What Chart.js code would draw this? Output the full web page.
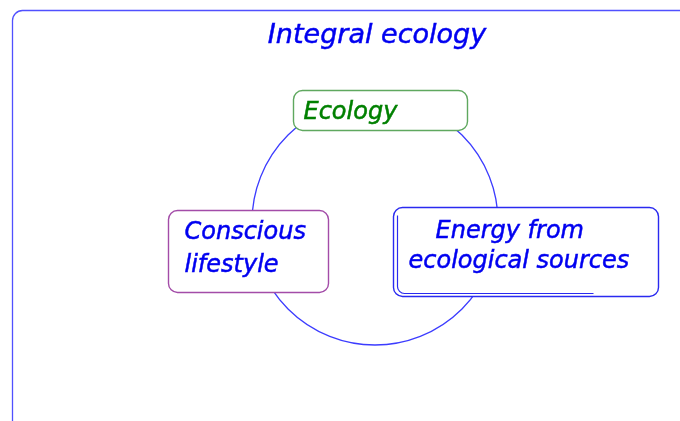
<!DOCTYPE html>
<html>
<head>
<meta charset="utf-8">
<style>
  html, body { margin: 0; padding: 0; background: #fff; }
  #wrap { width: 680px; height: 421px; }
</style>
<script src="https://cdn.jsdelivr.net/npm/chart.js@4"></script>
</head>
<body>
<div id="wrap"><canvas id="diagram"></canvas></div>
<script>
// ---------------------------------------------------------------------------
// Diagram data: three nodes sitting on one cycle
// ---------------------------------------------------------------------------

const titleText = 'Integral ecology';
const nodeNames = ['Ecology', 'Conscious lifestyle', 'Energy from ecological sources'];
const nodeLines = [['Ecology'], ['Conscious', 'lifestyle'], ['Energy from', 'ecological sources']];
const nodeX = [380, 248, 525.5];
const nodeY = [110, 251, 251.5];
const cycleX = 375;
const cycleY = 222;
const cycleR = 123;

// box look, in diagram units (1 unit = 1 px here)
const boxStyle = [
    { w: 174, h: 40, border: '#5fa85f', text: '#008000', textLeft: 10, baselines: [9], double: false },
    { w: 160, h: 82, border: '#a34ca8', text: '#0000f0', textLeft: 16, baselines: [-12, 21], double: false },
    { w: 265, h: 89, border: '#2a2af0', text: '#0000f0', textLeft: [42, 15], baselines: [-14, 16], double: true },
];

const FONT = '"DejaVu Sans", sans-serif';

function roundRect(ctx, x, y, w, h, r) {
    ctx.beginPath();
    ctx.moveTo(x + r, y);
    ctx.lineTo(x + w - r, y);
    ctx.arcTo(x + w, y, x + w, y + r, r);
    ctx.lineTo(x + w, y + h - r);
    ctx.arcTo(x + w, y + h, x + w - r, y + h, r);
    ctx.lineTo(x + r, y + h);
    ctx.arcTo(x, y + h, x, y + h - r, r);
    ctx.lineTo(x, y + r);
    ctx.arcTo(x, y, x + r, y, r);
    ctx.closePath();
}

// text with a hair of stroke so it looks as heavy as the original
function heavyText(ctx, txt, x, y, color) {
    ctx.fillStyle = color;
    ctx.strokeStyle = color;
    ctx.lineWidth = 0.5;
    ctx.fillText(txt, x, y);
    ctx.strokeText(txt, x, y);
}

const diagramPlugin = {
    id: 'diagram',
    beforeDatasetsDraw(chart) {
        const ctx = chart.ctx;
        const xs = chart.scales.x, ys = chart.scales.y;
        ctx.save();

        // outer frame (top + left edge with rounded corner)
        const fx = xs.getPixelForValue(12.5), fy = ys.getPixelForValue(10.5);
        ctx.strokeStyle = '#5050ff';
        ctx.lineWidth = 1.3;
        ctx.beginPath();
        ctx.moveTo(fx, ys.getPixelForValue(421));
        ctx.lineTo(fx, fy + 10);
        ctx.arcTo(fx, fy, fx + 10, fy, 10);
        ctx.lineTo(xs.getPixelForValue(680), fy);
        ctx.stroke();

        // title
        ctx.font = 'italic 27px ' + FONT;
        ctx.textAlign = 'center';
        ctx.textBaseline = 'alphabetic';
        heavyText(ctx, titleText, xs.getPixelForValue(377), ys.getPixelForValue(43), '#0000f0');

        // cycle
        const cx = xs.getPixelForValue(cycleX), cy = ys.getPixelForValue(cycleY);
        const r = xs.getPixelForValue(cycleX + cycleR) - cx;
        ctx.strokeStyle = '#3c3cff';
        ctx.lineWidth = 1.3;
        ctx.beginPath();
        ctx.arc(cx, cy, r, 0, Math.PI * 2);
        ctx.stroke();
        ctx.restore();
    },
    afterDatasetsDraw(chart) {
        const ctx = chart.ctx;
        const meta = chart.getDatasetMeta(0);
        ctx.save();
        meta.data.forEach((pt, i) => {
            const st = boxStyle[i];
            const x = Math.round(pt.x - st.w / 2) + 0.5;
            const y = Math.round(pt.y - st.h / 2) + 0.5;
            roundRect(ctx, x, y, st.w, st.h, 9);
            ctx.fillStyle = '#fff';
            ctx.fill();
            ctx.strokeStyle = st.border;
            ctx.lineWidth = 1.4;
            ctx.stroke();
            if (st.double) {
                // inner line on left + bottom
                ctx.lineWidth = 1.2;
                ctx.beginPath();
                ctx.moveTo(x + 4, y + 8);
                ctx.lineTo(x + 4, y + st.h - 11);
                ctx.arcTo(x + 4, y + st.h - 3, x + 11, y + st.h - 3, 7);
                ctx.lineTo(x + 200, y + st.h - 3);
                ctx.stroke();
            }
            ctx.font = 'italic 24px ' + FONT;
            ctx.textAlign = 'left';
            ctx.textBaseline = 'alphabetic';
            nodeLines[i].forEach((line, j) => {
                const left = Array.isArray(st.textLeft) ? st.textLeft[j] : st.textLeft;
                heavyText(ctx, line, x + left, pt.y + st.baselines[j], st.text);
            });
        });
        ctx.restore();
    }
};

new Chart(document.getElementById('diagram'), {
    type: 'scatter',
    data: {
        labels: nodeNames,
        datasets: [{
            label: 'nodes',
            data: nodeX.map((x, i) => ({ x, y: nodeY[i] })),
            pointRadius: 0,
            pointHoverRadius: 0,
        }]
    },
    options: {
        responsive: true,
        maintainAspectRatio: false,
        animation: false,
        events: [],
        layout: { padding: 0 },
        plugins: { legend: { display: false }, tooltip: { enabled: false }, title: { display: false } },
        scales: {
            x: { type: 'linear', min: 0, max: 680, display: false },
            y: { type: 'linear', min: 0, max: 421, reverse: true, display: false },
        }
    },
    plugins: [diagramPlugin]
});
</script>
</body>
</html>
